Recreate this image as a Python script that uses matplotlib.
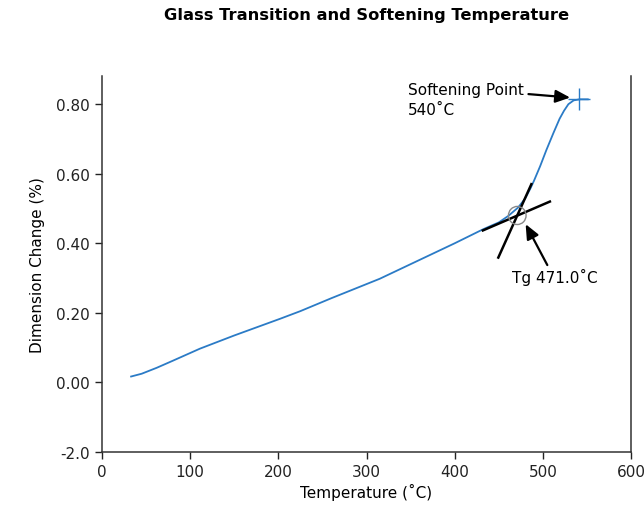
import numpy as np
import matplotlib
matplotlib.use("Agg")
import matplotlib.pyplot as plt
from matplotlib.patches import Ellipse

# dilatometer curve
temperature = [33, 45, 62, 80, 111, 150, 202, 225, 260, 315, 370, 400, 420,
               432, 440, 450, 461, 472, 480, 486, 490, 497, 504, 512, 519,
               524, 529, 535, 542, 551]
dimension = [0.017, 0.025, 0.042, 0.062, 0.097, 0.135, 0.183, 0.205, 0.242,
             0.298, 0.364, 0.400, 0.425, 0.440, 0.449, 0.460, 0.479, 0.503,
             0.529, 0.558, 0.580, 0.622, 0.668, 0.717, 0.758, 0.781, 0.800,
             0.811, 0.814, 0.814]

# tangent construction for Tg
tangent_low_x = [432, 508]
tangent_low_y = [0.437, 0.520]
tangent_high_x = [449.5, 487]
tangent_high_y = [0.359, 0.570]
tg_point = (471.0, 0.48)
softening_point = (541, 0.814)

x_ticks = [0, 100, 200, 300, 400, 500, 600]
y_ticks = [-0.2, 0.0, 0.2, 0.4, 0.6, 0.8]
y_tick_labels = ["-2.0", "0.00", "0.20", "0.40", "0.60", "0.80"]

line_color = "#2b7bc6"


def main():
    plt.rcParams["font.family"] = ["DejaVu Sans"]
    fig = plt.figure(figsize=(6.44, 5.10), dpi=100)
    ax = fig.add_axes([0.1584, 0.1118, 0.8214, 0.7372])

    ax.plot(temperature, dimension, color=line_color, lw=1.3, zorder=3)

    # tangents and the Tg marker
    ax.plot(tangent_low_x, tangent_low_y, color="black", lw=1.8, zorder=4)
    ax.plot(tangent_high_x, tangent_high_y, color="black", lw=1.8, zorder=4)
    circ = Ellipse(tg_point, width=20, height=0.052, fill=False,
                   edgecolor="#888888", lw=1.0, zorder=5)
    ax.add_patch(circ)

    ax.plot(*softening_point, marker="+", color=line_color, ms=16, mew=1.0,
            zorder=5)

    ax.annotate("Tg 471.0˚C", xy=(480.5, 0.455), xytext=(465, 0.305),
                fontsize=11, ha="left", va="center",
                arrowprops=dict(arrowstyle="-|>,head_length=0.8,head_width=0.35",
                                color="black", lw=1.6, shrinkA=0,
                                shrinkB=0, relpos=(0.43, 1.0)))
    ax.annotate("Softening Point\n540˚C", xy=(531, 0.819), xytext=(347, 0.813),
                fontsize=11, ha="left", va="center", linespacing=1.4,
                arrowprops=dict(arrowstyle="-|>,head_length=0.8,head_width=0.35",
                                color="black", lw=1.6, shrinkA=0,
                                shrinkB=0, relpos=(1.04, 0.66)))

    ax.set_xlim(0, 600)
    ax.set_ylim(-0.2, 0.881)
    ax.set_xticks(x_ticks)
    ax.set_yticks(y_ticks)
    ax.set_yticklabels(y_tick_labels)
    ax.tick_params(labelsize=11, length=5, width=1.0, colors="#222222")
    ax.spines["top"].set_visible(False)
    for side in ["left", "right", "bottom"]:
        ax.spines[side].set_color("#333333")
        ax.spines[side].set_linewidth(1.1)

    ax.set_xlabel("Temperature (˚C)", fontsize=11, labelpad=3)
    ax.set_ylabel("Dimension Change (%)", fontsize=11, labelpad=8)
    fig.suptitle("Glass Transition and Softening Temperature", fontsize=11.7,
                 fontweight="bold", x=0.569, y=0.985)

    fig.savefig("out.png", dpi=100)


if __name__ == "__main__":
    main()
